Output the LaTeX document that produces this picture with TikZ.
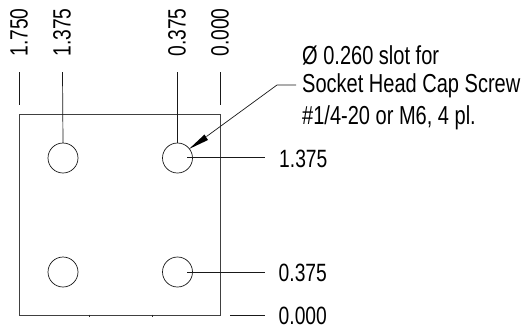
\documentclass[tikz,border=0pt]{standalone}
\usepackage{fontspec}
\setmainfont[FakeStretch=0.77]{Liberation Sans}
\tikzset{
  plate/.style={draw=black!75,line width=1pt,minimum width=201pt,minimum height=201pt,inner sep=0pt,outer sep=0pt},
  hole/.style={circle,draw=black!90,line width=0.7pt,minimum size=30pt,inner sep=0pt,outer sep=0pt},
  dimline/.style={draw=black!90,line width=0.7pt},
  dimtext/.style={font=\fontsize{25}{27}\selectfont,inner sep=0pt,text=black},
  note/.style={font=\fontsize{26}{28}\selectfont,inner sep=0pt,align=left,anchor=west,text=black},
}
\begin{document}
\begin{tikzpicture}[x=1pt,y=-1pt]
\useasboundingbox (0,0) rectangle (529,333);
\fill[white] (0,0) rectangle (529,333);
\node[plate] (plate) at (120.1,215) {};
\node[hole] (h1) at (63,158) {};
\node[hole] (h2) at (177.5,158) {};
\node[hole] (h3) at (63,272) {};
\node[hole] (h4) at (177.5,272) {};
% top dimensions
\node[dimtext,rotate=90] (t1) at (19,32.5) {1.750};
\node[dimtext,rotate=90] (t2) at (62,32.5) {1.375};
\node[dimtext,rotate=90] (t3) at (177,32.5) {0.375};
\node[dimtext,rotate=90] (t4) at (220,32.5) {0.000};
\coordinate (a1) at (19.5,72); \coordinate (b1) at (19.5,105);
\coordinate (a2) at (62.5,72);
\coordinate (a3) at (177.5,72);
\coordinate (a4) at (220.5,72); \coordinate (b4) at (220.5,105);
\draw[dimline] (a1) -- (b1);
\draw[dimline] (a2) -- (h1.north);
\draw[dimline] (a3) -- (h2.north);
\draw[dimline] (a4) -- (b4);
% right dimensions
\node[dimtext,anchor=west] (r1) at (279,158.5) {1.375};
\node[dimtext,anchor=west] (r2) at (278.5,273) {0.375};
\node[dimtext,anchor=west] (r3) at (278.5,315.5) {0.000};
\coordinate (c1) at (187,157.5); \coordinate (d1) at (265,157.5);
\coordinate (c2) at (187,272.5); \coordinate (d2) at (265,272.5);
\coordinate (c3) at (230,315.5); \coordinate (d3) at (265,315.5);
\draw[dimline] (c1) -- (d1);
\draw[dimline] (c2) -- (d2);
\draw[dimline] (c3) -- (d3);
% ticks on the bottom edge
\draw[black!85,line width=0.7pt] (89,314.5) -- (89,316.5) (152.5,314.5) -- (152.5,316.5);
% note
\node[note] (n1) at (302,55) {Ø 0.260 slot for};
\node[note] (n2) at (302,86) {Socket Head Cap Screw};
\node[note] (n3) at (302,118) {\#1/4-20 or M6, 4 pl.};
\coordinate (l1) at (296,85);
\coordinate (l2) at (277,85);
\coordinate (tip) at (189,149);
\coordinate (base) at (206.5,136.5);
\draw[dimline] (l1) -- (l2) -- (base);
\fill[black] (tip) -- (204.5,134.5) -- (208,140) -- cycle;
\end{tikzpicture}
\end{document}
